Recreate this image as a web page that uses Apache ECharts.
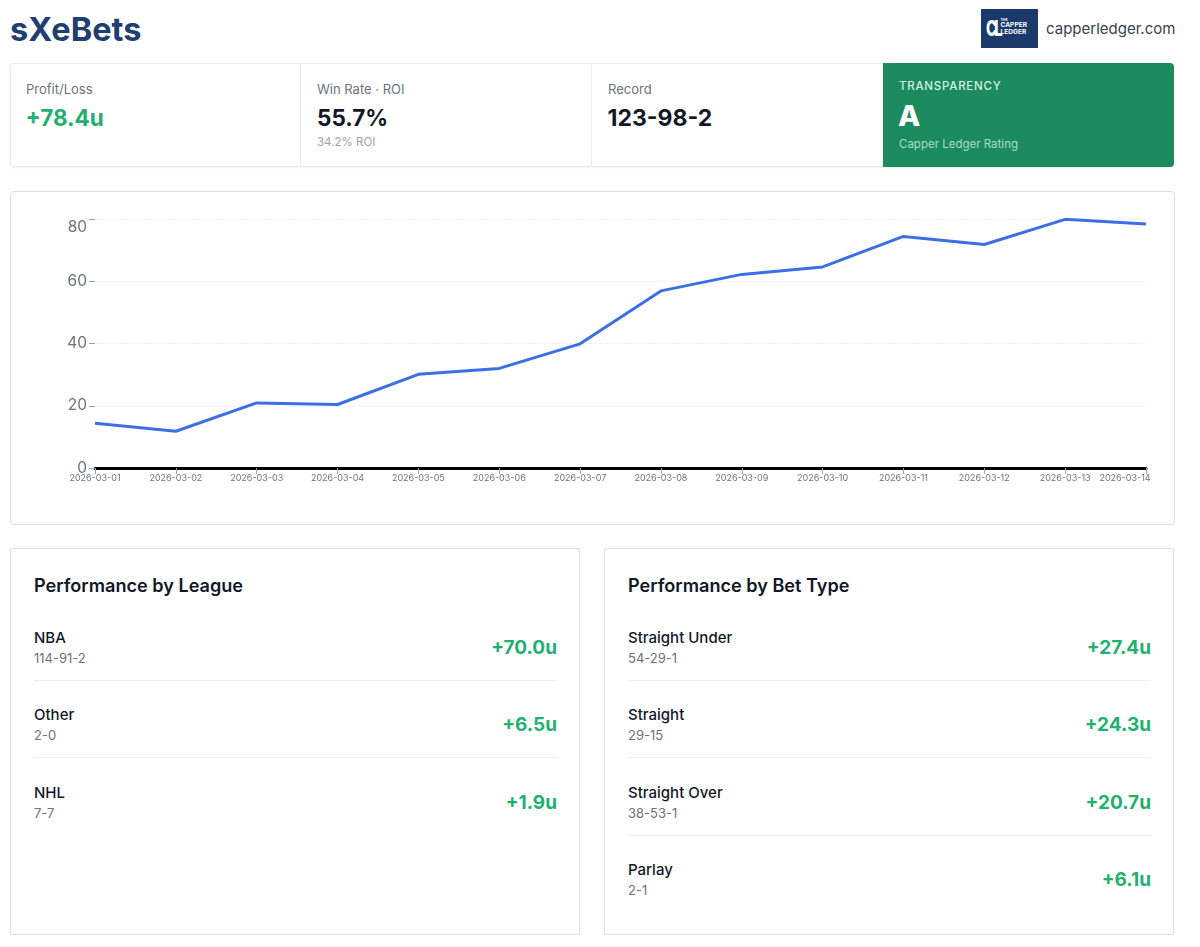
<!DOCTYPE html>
<html>
<head>
<meta charset="utf-8">
<title>sXeBets</title>
<script src="https://cdn.jsdelivr.net/npm/echarts@6/dist/echarts.min.js"></script>
<style>
  * { box-sizing: border-box; }
  html, body { margin: 0; background: #fff; font-family: Inter, "Noto Sans", sans-serif; color: #111827; overflow: hidden; }
  #page { position: relative; width: 1200px; height: 947px; }
  .abs { position: absolute; white-space: nowrap; }
  #title { left: 10px; top: 10px; font-size: 32.5px; line-height: 40px; font-weight: 700; color: #1e3f6f; }
  #logo { left: 981px; top: 9px; width: 57px; height: 39px; background: #1a3a6b; color: #fff; }
  #logo .cl { position: absolute; left: 5px; top: 9px; font-size: 21px; line-height: 21px; font-weight: 800; letter-spacing: -4px; transform: scaleX(.7); transform-origin: left top; }
  #logo .t { position: absolute; left: 19.5px; font-weight: 700; line-height: 7px; white-space: nowrap; }
  #site { left: 1046px; top: 18px; font-size: 15px; line-height: 22px; color: #374151; }
  #kpis { position: absolute; left: 10px; top: 63px; width: 1164px; height: 104px; border: 1px solid #e8eaed; border-radius: 4px; box-shadow: 0 1px 2px rgba(0,0,0,.06); }
  .sep { position: absolute; top: 64px; width: 1px; height: 102px; background: #e8eaed; }
  .lbl { font-size: 13px; line-height: 18px; color: #6b7280; }
  .big { font-size: 22.5px; line-height: 30px; font-weight: 700; }
  .small { font-size: 11.5px; line-height: 16px; color: #9ca3af; }
  #grade { position: absolute; left: 883px; top: 63px; width: 291px; height: 104px; background: #1c8c60; border-radius: 0 4px 4px 0; }
  #chartBox { position: absolute; left: 9.5px; top: 190.5px; width: 1165px; height: 334px; border: 1px solid #dcdfe3; border-radius: 4px; }
  #chart { position: absolute; left: 0; top: 191px; width: 1200px; height: 333px; }
  .panel { position: absolute; top: 548px; height: 387px; width: 570px; border: 1px solid #dcdfe3; border-radius: 2px; }
  .panel h2 { position: absolute; left: 23px; top: 23px; margin: 0; font-size: 18.1px; line-height: 26px; font-weight: 600; white-space: nowrap; }
  .row { position: absolute; left: 23px; width: 523px; height: 77.4px; }
  .row .name { position: absolute; left: 0; top: 1px; font-size: 15px; line-height: 20px; font-weight: 500; }
  .row .rec { position: absolute; left: 0; top: 22px; font-size: 13px; line-height: 18px; color: #6b7280; }
  .row .val { position: absolute; right: 0; top: 8px; font-size: 19px; line-height: 26px; font-weight: 700; color: #22b070; }
  .row .rule { position: absolute; left: 0; right: 0; top: 53px; height: 1px; background: #eef0f2; }
</style>
</head>
<body>
<div id="page">
  <div class="abs" id="title">sXeBets</div>
  <div class="abs" id="logo">
    <span class="cl">CL</span>
    <span class="t" style="top:9px;font-size:3.5px;line-height:4px">THE</span>
    <span class="t" style="top:13px;font-size:6.6px">CAPPER</span>
    <span class="t" style="top:20px;font-size:6.6px">LEDGER</span>
  </div>
  <div class="abs" id="site">capperledger.com</div>

  <div id="kpis"></div>
  <div class="sep" style="left:300px"></div>
  <div class="sep" style="left:591px"></div>
  <div class="abs lbl" style="left:26px;top:80px">Profit/Loss</div>
  <div class="abs big" style="left:25.5px;top:103px;color:#22b070">+78.4u</div>
  <div class="abs lbl" style="left:317px;top:80px">Win Rate · ROI</div>
  <div class="abs big" style="left:317px;top:103px">55.7%</div>
  <div class="abs small" style="left:317px;top:134px">34.2% ROI</div>
  <div class="abs lbl" style="left:608px;top:80px">Record</div>
  <div class="abs big" style="left:607.5px;top:103px;font-size:23px">123-98-2</div>
  <div id="grade"></div>
  <div class="abs" style="left:899px;top:78px;font-size:11.5px;line-height:16px;letter-spacing:.75px;color:#d5efe3;font-weight:500">TRANSPARENCY</div>
  <div class="abs" style="left:898px;top:99px;font-size:29px;line-height:34px;font-weight:800;color:#fff">A</div>
  <div class="abs" style="left:899px;top:136px;font-size:11.5px;line-height:16px;color:#a6dcc4">Capper Ledger Rating</div>

  <div id="chartBox"></div>
  <div id="chart"></div>

  <div class="panel" style="left:10px" id="leaguePanel"><h2>Performance by League</h2></div>
  <div class="panel" style="left:604px" id="betPanel"><h2>Performance by Bet Type</h2></div>
</div>

<script>
const dates = ["2026-03-01", "2026-03-02", "2026-03-03", "2026-03-04", "2026-03-05", "2026-03-06", "2026-03-07",
  "2026-03-08", "2026-03-09", "2026-03-10", "2026-03-11", "2026-03-12", "2026-03-13", "2026-03-14"]
const cumulativeUnits = [14.4, 11.8, 20.9, 20.4, 30.1, 32.0, 39.9, 56.9, 62.2, 64.6, 74.4, 71.8, 79.9, 78.4]

const leagueNames = ["NBA", "Other", "NHL"]
const leagueRecords = ["114-91-2", "2-0", "7-7"]
const leagueUnits = ["+70.0u", "+6.5u", "+1.9u"]

const betNames = ["Straight Under", "Straight", "Straight Over", "Parlay"]
const betRecords = ["54-29-1", "29-15", "38-53-1", "2-1"]
const betUnits = ["+27.4u", "+24.3u", "+20.7u", "+6.1u"]

function fillPanel(id, names, records, units) {
  const panel = document.getElementById(id)
  names.forEach((name, i) => {
    const row = document.createElement("div")
    row.className = "row"
    row.style.top = (78 + i * 77.4) + "px"
    row.innerHTML = '<div class="name">' + name + '</div><div class="rec">' + records[i] +
      '</div><div class="val">' + units[i] + '</div>' +
      (i < names.length - 1 ? '<div class="rule"></div>' : '')
    panel.appendChild(row)
  })
}
fillPanel("leaguePanel", leagueNames, leagueRecords, leagueUnits)
fillPanel("betPanel", betNames, betRecords, betUnits)

const myChart = echarts.init(document.getElementById("chart"), null, { renderer: "canvas" })
const option = {
  animation: false,
  textStyle: { fontFamily: "Inter" },
  grid: { left: 95, right: 54, top: 28, bottom: 56 },
  xAxis: {
    type: "category",
    data: dates,
    boundaryGap: false,
    axisLine: { lineStyle: { color: "#000", width: 3 } },
    axisTick: { length: 6, lineStyle: { color: "#9ca3af" } },
    axisLabel: {
      interval: 0,
      fontSize: 9,
      color: "#6b7280",
      margin: 6,
      letterSpacing: 0.3,
      // the last label sits left of its tick so it stays inside the card
      formatter: (value, index) => index === dates.length - 1 ? "{last|" + value + "}" : value,
      rich: { last: { fontSize: 9, color: "#6b7280", padding: [0, 42, 0, 0] } }
    }
  },
  yAxis: {
    type: "value",
    min: 0,
    max: 80,
    interval: 20,
    axisLine: { show: false },
    axisTick: { show: true, length: 6, lineStyle: { color: "#9ca3af" } },
    axisLabel: { fontSize: 15.5, color: "#6b7280", margin: 8, verticalAlignMaxLabel: "top" },
    splitLine: { lineStyle: { color: "#f0f1f3", type: "dashed" } }
  },
  series: [
    {
      type: "line",
      data: cumulativeUnits,
      showSymbol: false,
      symbol: "none",
      lineStyle: { color: "#3b6fe3", width: 3 }
    }
  ]
}
option && myChart.setOption(option)
</script>
</body>
</html>
